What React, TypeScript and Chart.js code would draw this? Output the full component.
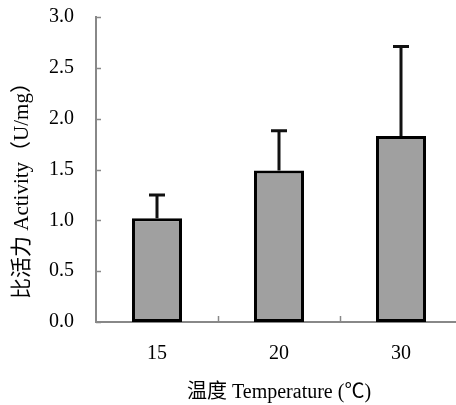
import React, { useEffect, useRef } from "react";
import { Chart, registerables } from "chart.js";

Chart.register(...registerables);

const categories = ["15", "20", "30"];
const activity = [1.02, 1.49, 1.83];
const errorUpper = [0.23, 0.39, 0.88];
const yTicks = [0, 0.5, 1.0, 1.5, 2.0, 2.5, 3.0];
const xTitle = "温度 Temperature (℃)";
const yTitle = "比活力 Activity（U/mg）";

const FONT = "'Liberation Serif', 'Times New Roman', 'Noto Sans CJK SC', serif";

const decorPlugin = {
  id: "decor",
  afterDatasetsDraw(chart: any) {
    const ctx = chart.ctx;
    const x = chart.scales.x;
    const y = chart.scales.y;
    const area = chart.chartArea;
    ctx.save();
    // error bars
    const meta = chart.getDatasetMeta(0);
    ctx.strokeStyle = "#111";
    ctx.lineWidth = 3;
    meta.data.forEach((bar: any, i: number) => {
      const cx = bar.x;
      const yTop = y.getPixelForValue(activity[i] + errorUpper[i]);
      const yBar = y.getPixelForValue(activity[i]);
      ctx.beginPath();
      ctx.moveTo(cx, yBar);
      ctx.lineTo(cx, yTop);
      ctx.moveTo(cx - 8, yTop);
      ctx.lineTo(cx + 8, yTop);
      ctx.stroke();
    });
    // inward ticks
    ctx.strokeStyle = "#888";
    ctx.lineWidth = 1.5;
    yTicks.forEach((v) => {
      const py = Math.round(y.getPixelForValue(v)) + 0.5;
      ctx.beginPath();
      ctx.moveTo(area.left, py);
      ctx.lineTo(area.left + 5, py);
      ctx.stroke();
    });
    for (let i = 1; i < categories.length; i++) {
      const px = Math.round((x.getPixelForValue(i - 1) + x.getPixelForValue(i)) / 2) + 0.5;
      ctx.beginPath();
      ctx.moveTo(px, area.bottom);
      ctx.lineTo(px, area.bottom - 6);
      ctx.stroke();
    }
    // titles
    ctx.fillStyle = "#000";
    ctx.font = `20px ${FONT}`;
    ctx.textAlign = "center";
    ctx.textBaseline = "middle";
    ctx.fillText(xTitle, (area.left + area.right) / 2, area.bottom + 71);
    ctx.font = `21px ${FONT}`;
    ctx.translate(22, (area.top + area.bottom) / 2 + 16);
    ctx.rotate(-Math.PI / 2);
    ctx.fillText(yTitle, 0, 0);
    ctx.restore();
  },
};

export default function App() {
  const ref = useRef<HTMLCanvasElement | null>(null);
  useEffect(() => {
    document.body.style.margin = "0";
    document.body.style.overflow = "hidden";
    const chart = new Chart(ref.current as HTMLCanvasElement, {
      type: "bar",
      data: {
        labels: categories,
        datasets: [
          {
            data: activity,
            backgroundColor: "#a0a0a0",
            borderColor: "#000",
            borderWidth: 3,
            borderSkipped: false,
            categoryPercentage: 1,
            barPercentage: 0.41,
          },
        ],
      },
      options: {
        animation: false,
        responsive: false,
        layout: { padding: { top: 17, right: 2, left: 0, bottom: 0 } },
        plugins: { legend: { display: false }, tooltip: { enabled: false } },
        scales: {
          x: {
            grid: { display: false, drawTicks: false },
            border: { display: true, color: "#888", width: 2 },
            ticks: { color: "#000", font: { family: FONT, size: 20 }, padding: 20 },
            afterFit: (s: any) => {
              s.height = 83;
            },
          },
          y: {
            min: 0,
            max: 3,
            afterBuildTicks: (s: any) => {
              s.ticks = yTicks.map((v) => ({ value: v }));
            },
            grid: { display: false, drawTicks: false },
            border: { display: true, color: "#888", width: 2 },
            ticks: {
              color: "#000",
              font: { family: FONT, size: 20 },
              padding: 22,
              callback: (v: any) => Number(v).toFixed(1),
            },
            afterFit: (s: any) => {
              s.width = 96;
              s.paddingTop = 10;
              s.paddingBottom = 0;
            },
          },
        },
      },
      plugins: [decorPlugin],
    });
    return () => chart.destroy();
  }, []);
  return (
    <div style={{ width: 456, height: 405, overflow: "hidden", position: "relative" }}>
      <canvas ref={ref} width={464} height={405} style={{ display: "block" }} />
    </div>
  );
}
